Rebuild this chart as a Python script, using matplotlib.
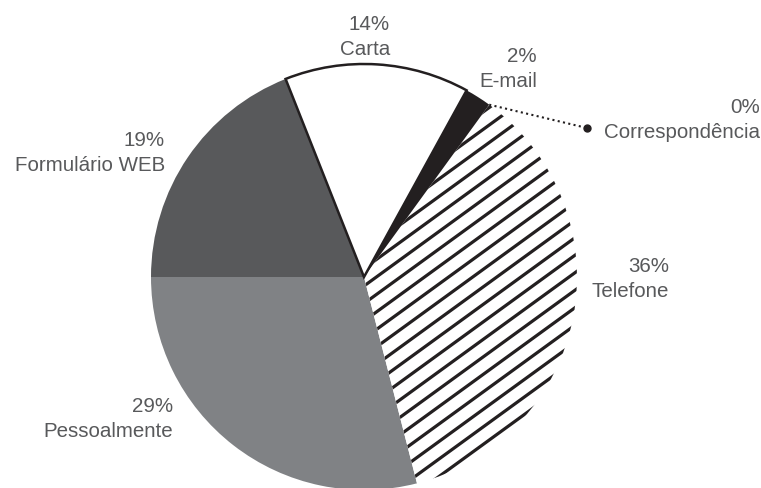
import matplotlib.pyplot as plt
import numpy as np

plt.rcParams['font.family'] = ['Liberation Sans', 'DejaVu Sans']

# data
categories = ['Pessoalmente', 'Telefone', 'Correspondência', 'E-mail', 'Carta', 'Formulário WEB']
shares = [29, 36, 0, 2, 14, 19]
colors = ['#808285', 'white', 'white', '#231f20', 'white', '#58595b']

# label anchors (right edge x, block centre y) in pixels
label_px = [(173, 419), (669, 279), (760, 120), (537, 69), (390, 37), (165, 153)]
leader_end_px = (587, 128)

W, H = 761, 488
cx, cy, R = 364, 277, 213  # pie centre and radius, pixels


def to_data(px, py):
    return (px - cx) / R, (cy - py) / R


fig = plt.figure(figsize=(W / 100, H / 100), dpi=100)
ax = fig.add_axes([0, 0, 1, 1])
wedges, _ = ax.pie(shares, colors=colors, startangle=180, counterclock=True,
                   radius=1, center=(0, 0), wedgeprops=dict(linewidth=0))
ax.set_xlim(-cx / R, (W - cx) / R)
ax.set_ylim(-(H - cy) / R, cy / R)
ax.set_aspect('auto')
ax.axis('off')

# Carta has a black outline
wedges[4].set_edgecolor('#231f20')
wedges[4].set_linewidth(1.8)
wedges[4].set_zorder(3)

# Telefone: diagonal stripes clipped to the wedge
tel = wedges[1]
slope = np.tan(np.radians(36))
step = 17.5 / R
xs = np.array([-1.5, 1.5])
for c in np.arange(-3, 3, step):
    ln, = ax.plot(xs, slope * xs + c, color='#231f20', lw=2.3, solid_capstyle='butt', zorder=2)
    ln.set_clip_path(tel)

# labels
for name, v, (px, py) in zip(categories, shares, label_px):
    x, y = to_data(px, py)
    ax.text(x, y, f'{v}%\n{name}', ha='right', va='center', multialignment='right',
            fontsize=14.8, color='#58595b', linespacing=1.35)

# dotted leader for the zero slice
w0 = wedges[2]
th = np.radians(w0.theta1)
x0, y0 = np.cos(th), np.sin(th)
x1, y1 = to_data(*leader_end_px)
ax.plot([x0, x1], [y0, y1], color='#231f20', lw=1.5, ls=(0, (1, 1.6)), zorder=4)
ax.plot([x1], [y1], 'o', color='#231f20', ms=5, zorder=4)

fig.savefig('out.png', dpi=100)
